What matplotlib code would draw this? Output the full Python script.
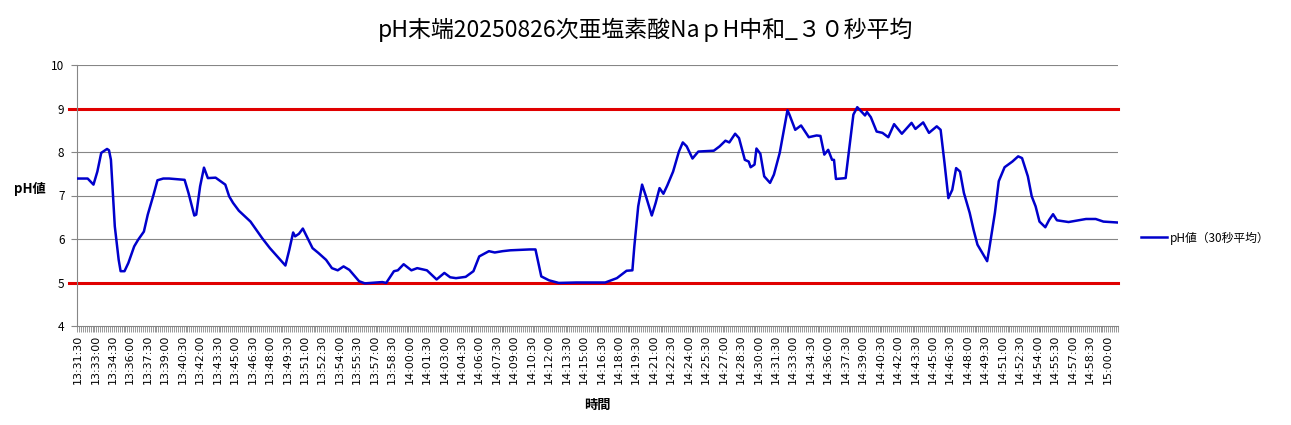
import numpy as np
import pandas as pd
import matplotlib
matplotlib.use("Agg")
import matplotlib.pyplot as plt

plt.rcParams['font.family'] = ['Noto Sans CJK JP', 'DejaVu Sans']

# readings of the 30 s average (time, pH)
times = [
    "13:31:30", "13:32:20", "13:32:50", "13:33:10", "13:33:30", "13:34:00", "13:34:10", "13:34:20",
    "13:34:40", "13:35:00", "13:35:10", "13:35:30", "13:35:50", "13:36:20", "13:36:40", "13:37:10",
    "13:37:30", "13:38:00", "13:38:20", "13:38:50", "13:39:20", "13:40:40", "13:41:00", "13:41:30",
    "13:41:40", "13:42:00", "13:42:20", "13:42:40", "13:43:20", "13:44:10", "13:44:30", "13:44:50",
    "13:45:20", "13:46:20", "13:47:20", "13:48:00", "13:49:20", "13:49:40", "13:50:00", "13:50:10",
    "13:50:30", "13:50:50", "13:51:40", "13:52:10", "13:52:50", "13:53:20", "13:53:50", "13:54:20",
    "13:54:50", "13:55:40", "13:56:10", "13:57:40", "13:58:00", "13:58:40", "13:59:00", "13:59:30",
    "14:00:10", "14:00:40", "14:01:30", "14:02:20", "14:03:00", "14:03:30", "14:04:00", "14:04:50",
    "14:05:30", "14:06:00", "14:06:50", "14:07:20", "14:08:00", "14:08:40", "14:10:20", "14:10:50",
    "14:11:20", "14:12:00", "14:12:50", "14:14:20", "14:16:50", "14:17:50", "14:18:40", "14:19:10",
    "14:19:20", "14:19:40", "14:20:00", "14:20:20", "14:20:50", "14:21:10", "14:21:30", "14:21:50",
    "14:22:10", "14:22:40", "14:23:10", "14:23:30", "14:23:50", "14:24:20", "14:24:50", "14:26:10",
    "14:26:40", "14:27:10", "14:27:30", "14:28:00", "14:28:20", "14:28:50", "14:29:10", "14:29:20",
    "14:29:40", "14:29:50", "14:30:10", "14:30:30", "14:31:00", "14:31:20", "14:31:50", "14:32:30",
    "14:32:40", "14:33:10", "14:33:40", "14:34:20", "14:35:00", "14:35:20", "14:35:40", "14:36:00",
    "14:36:20", "14:36:30", "14:36:40", "14:37:30", "14:37:50", "14:38:10", "14:38:30", "14:39:10",
    "14:39:20", "14:39:40", "14:40:10", "14:40:40", "14:41:10", "14:41:40", "14:42:20", "14:43:10",
    "14:43:30", "14:44:10", "14:44:40", "14:45:20", "14:45:40", "14:46:00", "14:46:20", "14:46:40",
    "14:47:00", "14:47:20", "14:47:40", "14:48:10", "14:48:30", "14:48:50", "14:49:20", "14:49:40",
    "14:49:50", "14:50:20", "14:50:40", "14:51:10", "14:51:50", "14:52:20", "14:52:40", "14:53:10",
    "14:53:30", "14:53:50", "14:54:10", "14:54:40", "14:55:00", "14:55:20", "14:55:40", "14:56:40",
    "14:57:20", "14:58:10", "14:59:00", "14:59:40", "15:00:50",
]
ph = [
    7.39, 7.39, 7.25, 7.55, 7.98, 8.07, 8.04, 7.82,
    6.29, 5.52, 5.26, 5.26, 5.45, 5.83, 5.98, 6.17,
    6.56, 7.02, 7.35, 7.39, 7.39, 7.36, 7.06, 6.54,
    6.56, 7.21, 7.64, 7.40, 7.41, 7.25, 6.98, 6.83,
    6.65, 6.40, 6.02, 5.79, 5.39, 5.75, 6.15, 6.06,
    6.12, 6.24, 5.79, 5.68, 5.52, 5.33, 5.28, 5.37,
    5.29, 5.03, 4.98, 5.01, 4.99, 5.26, 5.28, 5.42,
    5.28, 5.33, 5.28, 5.07, 5.22, 5.12, 5.10, 5.13,
    5.26, 5.60, 5.72, 5.69, 5.72, 5.74, 5.76, 5.76,
    5.14, 5.05, 4.99, 5.00, 5.00, 5.10, 5.27, 5.28,
    5.83, 6.75, 7.25, 6.98, 6.54, 6.83, 7.17, 7.04,
    7.23, 7.55, 8.01, 8.22, 8.13, 7.85, 8.01, 8.03,
    8.13, 8.26, 8.22, 8.42, 8.32, 7.82, 7.78, 7.65,
    7.71, 8.08, 7.96, 7.44, 7.29, 7.48, 7.98, 8.96,
    8.86, 8.51, 8.61, 8.34, 8.38, 8.37, 7.94, 8.05,
    7.82, 7.82, 7.38, 7.40, 8.13, 8.86, 9.03, 8.84,
    8.92, 8.80, 8.47, 8.44, 8.34, 8.64, 8.42, 8.67,
    8.53, 8.68, 8.44, 8.59, 8.51, 7.75, 6.94, 7.13,
    7.63, 7.55, 7.06, 6.60, 6.21, 5.87, 5.64, 5.49,
    5.75, 6.60, 7.33, 7.65, 7.78, 7.90, 7.86, 7.44,
    6.98, 6.75, 6.40, 6.27, 6.44, 6.57, 6.43, 6.39,
    6.42, 6.46, 6.46, 6.40, 6.38,
]
limits = [9, 5]

start = pd.Timestamp("2025-08-26 13:31:30")
end = pd.Timestamp("2025-08-26 15:00:50")
categories = pd.date_range(start, end, freq="10s")
cat_labels = [t.strftime("%H:%M:%S") for t in categories]

x = (pd.to_datetime(["2025-08-26 " + t for t in times]) - start).total_seconds() / 10

fig = plt.figure(figsize=(12.91, 4.25), dpi=100)
ax = fig.add_axes([77 / 1291, 1 - 326 / 425, 1041 / 1291, 261 / 425])

grid_c = "#868686"
for v in range(5, 11):
    ax.axhline(v, color=grid_c, lw=0.8, zorder=1)

ax.plot(x, ph, color="#0000cc", lw=1.8, label="pH値（30秒平均）", zorder=3)
for v in limits:
    ax.axhline(v, xmin=-0.008, xmax=1, color="#e00000", lw=2.2, clip_on=False, zorder=2)

ax.set_xlim(-0.5, len(categories) - 0.5)
ax.set_ylim(4, 10)
ax.set_yticks(range(4, 11))
ax.tick_params(axis="y", length=4, color=grid_c, labelsize=8.5, pad=5)

ax.set_xticks(np.arange(0, len(categories), 9))
ax.set_xticklabels(cat_labels[::9], rotation=90, fontsize=8, family=["DejaVu Sans"])
ax.set_xticks(np.arange(-0.5, len(categories), 1), minor=True)
ax.tick_params(axis="x", which="major", length=0, pad=6)
ax.tick_params(axis="x", which="minor", length=4, color=grid_c, width=0.6)

for s in ["top", "right"]:
    ax.spines[s].set_visible(False)
for s in ["left", "bottom"]:
    ax.spines[s].set_color(grid_c)
    ax.spines[s].set_linewidth(0.8)

ax.set_ylabel("pH値", rotation=0, fontsize=9.5, fontweight="bold")
ax.yaxis.set_label_coords(-0.045, 0.5)
ax.set_xlabel("時間", fontsize=9.5, fontweight="bold")
ax.xaxis.set_label_coords(0.5, -0.276)

fig.text(0.5, 1 - 30 / 425, "pH末端20250826次亜塩素酸NaｐH中和_３０秒平均",
         ha="center", va="center", fontsize=16.5)

ax.legend(loc="center left", bbox_to_anchor=(1130 / 1291, 1 - 238 / 425),
          bbox_transform=fig.transFigure, frameon=False, fontsize=8.5,
          handlelength=2.2, handletextpad=0.3)

fig.savefig("out.png", dpi=100)
